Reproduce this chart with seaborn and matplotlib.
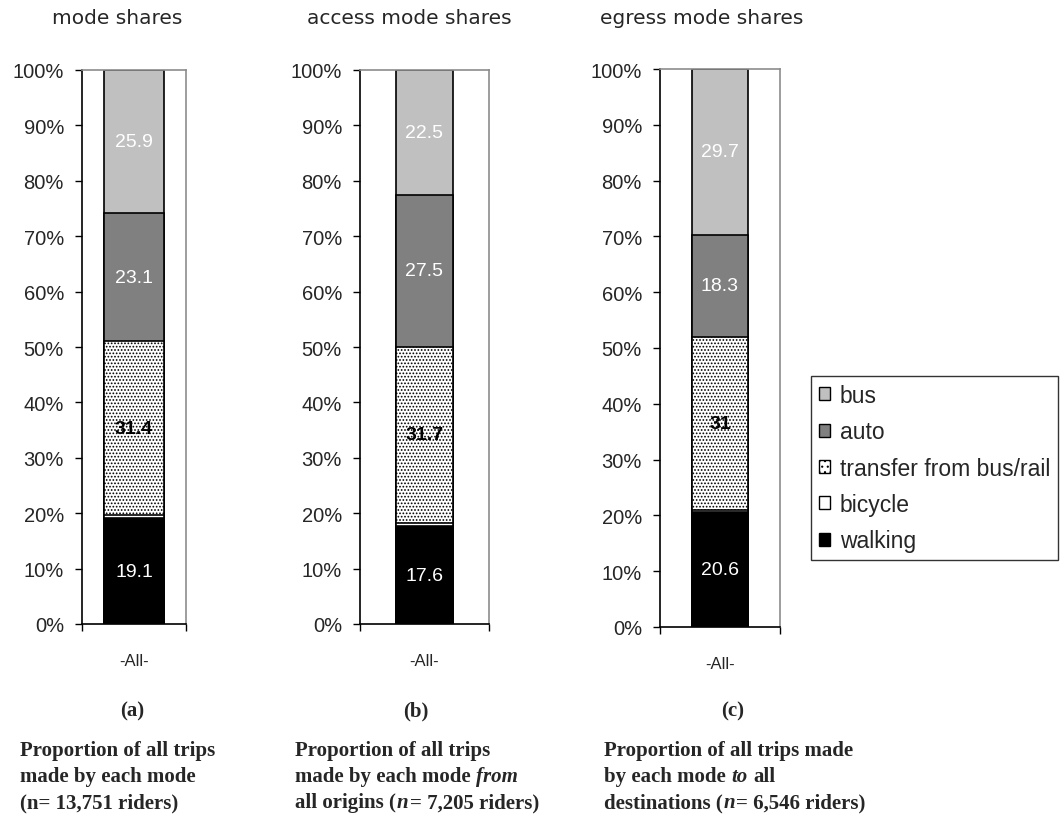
import matplotlib
matplotlib.use('Agg')
import matplotlib.pyplot as plt
from matplotlib.patches import Patch
import seaborn as sns
import numpy as np
import pandas as pd

# data (stacked from the bottom up)
modes = ['walking', 'bicycle', 'transfer from bus/rail', 'auto', 'bus']
category = ['-All-']
shares_a = [19.1, 0.5, 31.4, 23.1, 25.9]
shares_b = [17.6, 0.7, 31.7, 27.5, 22.5]
shares_c = [20.6, 0.4, 31, 18.3, 29.7]
yticks = list(range(0, 101, 10))

panel_titles = ['mode shares', 'access mode shares', 'egress mode shares']
panel_tags = ['(a)', '(b)', '(c)']
# caption lines: list of (text, italic)
caption_a = [[('Proportion of all trips', False)],
             [('made by each mode', False)],
             [('(n= 13,751 riders)', False)]]
caption_b = [[('Proportion of all trips', False)],
             [('made by each mode ', False), ('from', True)],
             [('all origins (', False), ('n', True), ('= 7,205 riders)', False)]]
caption_c = [[('Proportion of all trips made', False)],
             [('by each mode ', False), ('to', True), (' all', False)],
             [('destinations (', False), ('n', True), ('= 6,546 riders)', False)]]

# styles
mode_colors = ['black', 'white', 'white', '#808080', '#c0c0c0']
mode_hatches = ['', '', '.....', '', '']
label_colors = ['white', None, 'black', 'white', 'white']
label_weights = ['normal', None, 'bold', 'normal', 'normal']

sns.set_style('white')
plt.rcParams['font.family'] = ['Liberation Sans', 'DejaVu Sans']
plt.rcParams['hatch.linewidth'] = 0.8

W, H = 1061, 820
fig = plt.figure(figsize=(W / 100, H / 100), dpi=100)

# pixel boxes: left, top, right, bottom ; bar width in data units
panels = [
    dict(box=(82, 71, 186, 625), width=0.58, shares=shares_a, title_x=52, tag_x=132, cap_x=20, caption=caption_a),
    dict(box=(360, 71, 489, 625), width=0.44, shares=shares_b, title_x=307, tag_x=416, cap_x=295, caption=caption_b),
    dict(box=(660, 70, 780, 628), width=0.47, shares=shares_c, title_x=600, tag_x=733, cap_x=604, caption=caption_c),
]

for p, title, tag in zip(panels, panel_titles, panel_tags):
    l, t, r, b = p['box']
    ax = fig.add_axes([l / W, 1 - b / H, (r - l) / W, (b - t) / H])
    vals = np.array(p['shares'], dtype=float)
    cum = np.cumsum(vals)
    cum[-1] = 100.0
    # draw cumulative bars from the top layer down so each covers the one beneath
    for i in reversed(range(len(modes))):
        df = pd.DataFrame({'cat': category, 'val': [cum[i]]})
        sns.barplot(data=df, x='cat', y='val', color=mode_colors[i], saturation=1,
                    width=p['width'], edgecolor='black', linewidth=1.2,
                    hatch=mode_hatches[i], ax=ax)
    # value labels
    starts = cum - vals
    for i, v in enumerate(vals):
        if label_colors[i] is None:
            continue
        ax.text(0, starts[i] + v / 2, f'{v:g}', ha='center', va='center',
                color=label_colors[i], fontweight=label_weights[i], fontsize=14)
    ax.set_ylim(0, 100)
    ax.set_xlim(-0.5, 0.5)
    ax.set_yticks(yticks)
    ax.set_yticklabels([f'{v}%' for v in yticks], fontsize=14.5)
    ax.set_xlabel('')
    ax.set_ylabel('')
    ax.tick_params(axis='y', direction='out', length=5, width=1, color='black', pad=8, left=True)
    ax.tick_params(axis='x', which='major', length=0, pad=21, labelsize=12)
    ax.set_xticks([-0.5, 0.5], minor=True)
    ax.tick_params(axis='x', which='minor', direction='out', length=5, width=1, color='black', bottom=True)
    for side in ['top', 'right']:
        ax.spines[side].set_color('#8c8c8c')
        ax.spines[side].set_linewidth(1.2)
    for side in ['left', 'bottom']:
        ax.spines[side].set_color('black')
        ax.spines[side].set_linewidth(1.2)

    fig.text(p['title_x'] / W, 1 - 18 / H, title, ha='left', va='center',
             family='DejaVu Sans', fontsize=14.5)
    fig.text(p['tag_x'] / W, 1 - 711 / H, tag, ha='center', va='center',
             family='Liberation Serif', fontweight='bold', fontsize=15)

# captions, built segment by segment so italic words sit inline
fig.canvas.draw()
renderer = fig.canvas.get_renderer()
cap_font = dict(family='Liberation Serif', fontweight='bold', fontsize=15)
probe1 = fig.text(0, 0, 'x x', **cap_font)
probe2 = fig.text(0, 0, 'xx', **cap_font)
space_px = probe1.get_window_extent(renderer).width - probe2.get_window_extent(renderer).width
probe1.remove()
probe2.remove()

line_y = [756, 782, 808]
for p in panels:
    for line, y in zip(p['caption'], line_y):
        x = p['cap_x']
        for text, italic in line:
            if text.startswith(' '):
                x += space_px
            t = fig.text(x / W, 1 - y / H, text.strip(), ha='left', va='baseline',
                         fontstyle='italic' if italic else 'normal', **cap_font)
            bb = t.get_window_extent(renderer)
            x = bb.x1 + (space_px if text.endswith(' ') else 1)

handles = [Patch(facecolor=mode_colors[i], edgecolor='black', hatch=mode_hatches[i] and '...',
                 linewidth=1, label=modes[i]) for i in reversed(range(len(modes)))]
leg = fig.legend(handles=handles, loc='upper left', bbox_to_anchor=(811 / W, 1 - 377 / H),
                 frameon=True, fancybox=False, fontsize=16.5, handlelength=0.5,
                 handleheight=0.5, handletextpad=0.4, labelspacing=0.58,
                 borderpad=0.35, borderaxespad=0)
leg.get_frame().set_edgecolor('black')
leg.get_frame().set_linewidth(1)

fig.savefig('out.png', dpi=100)
